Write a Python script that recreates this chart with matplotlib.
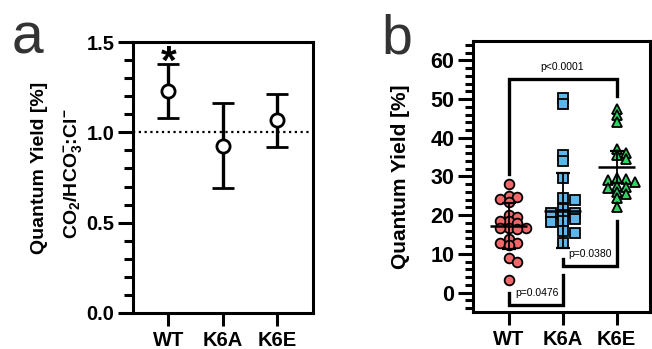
import matplotlib
matplotlib.use('Agg')
import matplotlib.pyplot as plt
import numpy as np
from matplotlib.ticker import MultipleLocator, FixedLocator

plt.rcParams['font.family'] = ['Liberation Sans', 'DejaVu Sans']
plt.rcParams['mathtext.fontset'] = 'custom'
plt.rcParams['mathtext.rm'] = 'Liberation Sans:bold'
plt.rcParams['mathtext.bf'] = 'Liberation Sans:bold'
plt.rcParams['mathtext.it'] = 'Liberation Sans:bold'
plt.rcParams['mathtext.sf'] = 'Liberation Sans:bold'

# ---------------- data ----------------
categories = ['WT', 'K6A', 'K6E']

# panel a: ratio CO2/HCO3- : Cl-
ratio_mean = [1.23, 0.927, 1.066]
ratio_err = [0.148, 0.233, 0.146]
ratio_ticks = [0.0, 0.5, 1.0, 1.5]

# panel b: quantum yield individual values
qy_wt = [28.0, 25.0, 24.8, 24.2, 23.5, 20.0, 19.5, 18.5, 18.5, 18.0, 16.8,
         16.8, 16.8, 16.5, 13.8, 12.9, 12.9, 12.2, 9.0, 7.8, 3.2]
qy_k6a = [50.4, 48.7, 35.5, 34.0, 29.5, 24.5, 24.0, 21.5, 20.7, 20.5, 20.0,
          19.0, 18.5, 18.3, 15.8, 15.5, 12.7]
qy_k6e = [47.5, 46.0, 44.0, 37.0, 36.0, 35.5, 34.5, 29.7, 29.3, 29.0, 28.5,
          27.5, 27.3, 27.0, 26.0, 25.5, 24.5, 22.0]
qy_center = [17.2, 21.2, 32.5]
qy_err = [6.0, 9.6, 4.1]
qy_ticks = [0, 10, 20, 30, 40, 50, 60]
p_labels = ['p<0.0001', 'p=0.0476', 'p=0.0380']

W, H = 652, 349
fig = plt.figure(figsize=(W / 100, H / 100), dpi=100)

LW = 2.2
TICKFS = 14.5

def style_axes(ax):
    for s in ax.spines.values():
        s.set_linewidth(LW)
        s.set_color('black')
    ax.tick_params(axis='both', which='major', width=LW, color='black',
                   labelsize=TICKFS, pad=3)
    ax.tick_params(axis='y', which='major', length=10.5)
    ax.tick_params(axis='y', which='minor', width=LW, length=6.5)
    ax.tick_params(axis='x', which='major', length=9.5, pad=3.5)
    for lab in ax.get_xticklabels() + ax.get_yticklabels():
        lab.set_fontweight('bold')

# ---------------- panel a ----------------
axa = fig.add_axes([133 / W, 1 - 313 / H, 180 / W, 271 / H])
xa = np.arange(len(categories))
axa.axhline(1.0, color='black', lw=1.6, ls=(0, (1, 1.6)), zorder=1)
axa.errorbar(xa, ratio_mean, yerr=ratio_err, fmt='o', ms=9.5, mfc='white',
             mec='black', mew=2.0, ecolor='black', elinewidth=2.4,
             capsize=8, capthick=2.4, zorder=3)
axa.set_xlim(-0.65, 2.66)
axa.set_ylim(0, 1.5)
axa.set_yticks(ratio_ticks)
axa.set_yticklabels([f'{t:.1f}' for t in ratio_ticks])
axa.yaxis.set_minor_locator(MultipleLocator(0.1))
axa.set_xticks(xa)
axa.set_xticklabels(categories)
style_axes(axa)
axa.text(xa[0], ratio_mean[0] + ratio_err[0] - 0.055, '*', ha='center',
         va='baseline', fontsize=29, fontweight='bold', clip_on=False)
axa.text(-0.522, 0.535, 'Quantum Yield [%]', transform=axa.transAxes,
         rotation=90, ha='center', va='center', fontsize=14,
         fontweight='bold')
axa.text(-0.335, 0.515, r'CO$_2$/HCO$_3^{-}$:Cl$^{-}$', transform=axa.transAxes,
         rotation=90, ha='center', va='center', fontsize=14,
         fontweight='bold')

# ---------------- panel b ----------------
axb = fig.add_axes([473 / W, 1 - 312 / H, 177 / W, 271 / H])
axb.set_xlim(-0.66, 2.62)
axb.set_ylim(-5, 65)


def swarm_offsets(ax, xc, values, sx, sy):
    """Row-style swarm: points closer than sy (px) vertically are
    spread horizontally by steps of sx (px)."""
    trans = ax.transData
    x0 = trans.transform((xc, 0))[0]
    pxx = trans.transform((xc + 1, 0))[0] - x0
    ys = np.array([trans.transform((xc, v))[1] for v in values])
    order = np.argsort(-ys, kind='stable')
    placed = []
    xs = np.zeros(len(values))
    for i in order:
        y = ys[i]
        near = [(px, py) for px, py in placed if abs(py - y) < sy]
        cands = [0.0]
        for px, _ in near:
            cands += [px + sx, px - sx]
        cands.sort(key=lambda c: (abs(c), -c))
        for c in cands:
            if all(abs(c - px) >= sx - 1e-6 for px, _ in near):
                xs[i] = c
                placed.append((c, y))
                break
    return xc + xs / pxx


groups = [qy_wt, qy_k6a, qy_k6e]
markers = ['o', 's', '^']
sizes = [7.0, 7.0, 7.0]
spacing = [8.7, 12.0, 9.0]
colors = ['#F2686A', '#5CB6EA', '#2ED565']
for i, (vals, m, ms, c) in enumerate(zip(groups, markers, sizes, colors)):
    xs = swarm_offsets(axb, i, vals, spacing[i], 5.0)
    axb.plot(xs, vals, m, ms=ms, mfc=c, mec='black', mew=1.3, ls='none',
             zorder=3)

xb = np.arange(len(categories))
axb.errorbar(xb, qy_center, yerr=qy_err, fmt='none', ecolor='black',
             elinewidth=1.3, capsize=4.7, capthick=1.6, zorder=4)
axb.hlines(qy_center, xb - 0.34, xb + 0.34, color='black', lw=1.8, zorder=4)

# significance brackets
blw = 2.4
axb.plot([0, 0, 2, 2], [30.6, 55.1, 55.1, 50.8], color='black', lw=blw,
         solid_joinstyle='miter', zorder=2)
axb.text(1, 58.3, p_labels[0], ha='center', va='center', fontsize=7.5)
axb.plot([0, 0, 1, 1], [0.0, -3.3, -3.3, 4.5], color='black', lw=blw,
         solid_joinstyle='miter', zorder=2)
axb.text(0.52, 0.0, p_labels[1], ha='center', va='center', fontsize=7.5)
axb.plot([1, 1, 2, 2], [8.8, 6.9, 6.9, 18.5], color='black', lw=blw,
         solid_joinstyle='miter', zorder=2)
axb.text(1.5, 9.9, p_labels[2], ha='center', va='center', fontsize=7.5)

axb.set_yticks(qy_ticks)
axb.set_yticklabels([str(t) for t in qy_ticks])
axb.yaxis.set_minor_locator(FixedLocator(np.arange(-4, 65, 2)))
axb.set_xticks(xb)
axb.set_xticklabels(categories)
style_axes(axb)
axb.tick_params(axis='y', which='minor', length=5.5)
axb.tick_params(axis='y', labelsize=15.5)
axb.set_ylabel('Quantum Yield [%]', fontsize=15, fontweight='bold')
axb.yaxis.set_label_coords(-0.354, 0.5)

# panel letters
fig.text(12 / W, 1 - 53 / H, 'a', fontsize=41, color='#333333', ha='left',
         va='baseline')
fig.text(381 / W, 1 - 53 / H, 'b', fontsize=40, color='#333333', ha='left',
         va='baseline')

fig.savefig('out.png', dpi=100)
